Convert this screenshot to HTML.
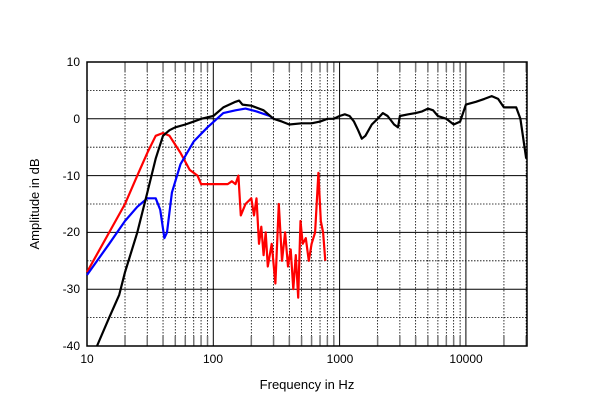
<!DOCTYPE html>
<html><head><meta charset="utf-8"><style>
html,body{margin:0;padding:0;background:#fff;}
svg{display:block;font-family:"Liberation Sans",Arial,sans-serif;}
</style></head><body>
<svg id="s" width="600" height="412" viewBox="0 0 600 412" xmlns="http://www.w3.org/2000/svg">
<g id="grid"></g>
<rect x="87" y="62" width="440" height="284" fill="none" stroke="#000" stroke-width="1.5"/>
<g id="curves" fill="none" stroke-width="2.2" stroke-linejoin="round"></g>
<g font-size="12" fill="#000">
<text x="80" y="66" text-anchor="end">10</text>
<text x="80" y="123" text-anchor="end">0</text>
<text x="80" y="180" text-anchor="end">-10</text>
<text x="80" y="236" text-anchor="end">-20</text>
<text x="80" y="293" text-anchor="end">-30</text>
<text x="80" y="350" text-anchor="end">-40</text>
<text x="87" y="363" text-anchor="middle">10</text>
<text x="213" y="363" text-anchor="middle">100</text>
<text x="340" y="363" text-anchor="middle">1000</text>
<text x="466" y="363" text-anchor="middle">10000</text>
<text x="307" y="389" text-anchor="middle" font-size="13">Frequency  in Hz</text>
<text transform="translate(39,204) rotate(-90)" text-anchor="middle" font-size="13">Amplitude in dB</text>
</g>
</svg>
<script>
var X=f=>87+126.3*Math.log10(f/10), Y=d=>62+(10-d)*5.68;
var g=document.getElementById('grid'),h='';
for(var d=-35;d<10;d+=5){var y=Y(d);h+='<line x1="87" x2="527" y1="'+y+'" y2="'+y+'" stroke="#000" stroke-width="'+(d%10==0?1:0.8)+'" '+(d%10==0?'':'stroke-dasharray="1.5,1.5"')+'/>';}
for(var dec=10;dec<=10000;dec*=10)for(var k=1;k<10;k++){var f=dec*k;if(f>30000)break;var x=X(f);if(k==1){h+='<line x1="'+x+'" x2="'+x+'" y1="62" y2="346" stroke="#000" stroke-width="1"/>';}else{h+='<line x1="'+x+'" x2="'+x+'" y1="62" y2="346" stroke="#000" stroke-width="0.8" stroke-dasharray="1.5,1.5"/><line x1="'+x+'" x2="'+x+'" y1="62" y2="72" stroke="#777" stroke-width="1.5"/><line x1="'+x+'" x2="'+x+'" y1="336" y2="346" stroke="#777" stroke-width="1.5"/>';}}
g.innerHTML=h;
function P(a,c){return '<polyline stroke="'+c+'" points="'+a.map(p=>X(p[0]).toFixed(1)+','+Y(p[1]).toFixed(1)).join(' ')+'"/>';}
var black=[[12,-40],[15,-35],[18,-31],[20,-27],[25,-20],[30,-13],[35,-7],[40,-3],[45,-2],[50,-1.5],[60,-1],[70,-0.5],[80,0],[100,0.5],[120,2],[150,3],[160,3.2],[170,2.5],[200,2.3],[250,1.5],[300,0],[350,-0.5],[400,-1],[500,-0.8],[600,-0.8],[700,-0.5],[800,0],[900,0],[1000,0.5],[1100,0.8],[1200,0.5],[1300,-0.5],[1400,-2],[1500,-3.5],[1600,-3],[1800,-1],[2000,0],[2200,1],[2400,0.5],[2700,-1],[2900,-1.5],[3000,0.5],[3500,0.8],[4000,1],[4500,1.3],[5000,1.8],[5500,1.5],[6000,0.5],[7000,0],[8000,-1],[9000,-0.5],[10000,2.5],[12000,3],[14000,3.5],[16000,4],[18000,3.5],[20000,2],[25000,2],[27000,0],[30000,-7]];
var blue=[[10,-27.5],[15,-22],[20,-18],[25,-15.5],[30,-14],[35,-14],[38,-16],[41,-21],[43,-20],[47,-13],[55,-8],[70,-4],[90,-1.5],[120,1],[150,1.5],[180,1.8],[220,1.3],[280,0.5],[300,0]];
var red=[[10,-27],[15,-20],[20,-15],[25,-10],[30,-6],[35,-3],[40,-2.5],[45,-3],[55,-6],[65,-9],[75,-10],[80,-11.5],[100,-11.5],[130,-11.5],[140,-11],[150,-11.5],[158,-10],[165,-17],[180,-15],[200,-14],[210,-17],[220,-14],[230,-22],[240,-19],[250,-24],[260,-20],[270,-26],[290,-22],[310,-29],[330,-15],[350,-25],[370,-20],[390,-26],[410,-23],[430,-30],[450,-24],[470,-31.5],[490,-18],[510,-22],[540,-21],[570,-25],[600,-22],[640,-20],[680,-9.5],[710,-18],[740,-20],[770,-25]];
document.getElementById('curves').innerHTML=P(red,'#f00')+P(blue,'#00f')+P(black,'#000');
</script>
</body></html>
